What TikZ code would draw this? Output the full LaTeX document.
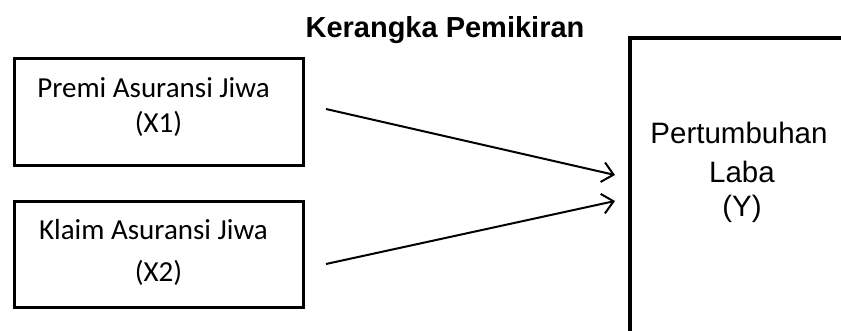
\documentclass[tikz,border=0pt]{standalone}
\usepackage{fontspec}
\setmainfont{Liberation Sans}
\newfontfamily\calfont{Carlito}
\usetikzlibrary{arrows.meta}

\begin{document}
\begin{tikzpicture}[x=1pt,y=-1pt,
  every node/.style={outer sep=0pt},
  inbox/.style={draw, line width=3pt, minimum width=289pt, minimum height=107pt,
    inner sep=0pt},
  boxtext/.style={anchor=base, inner sep=0pt, font=\calfont\fontsize{29}{35}\selectfont},
  ytext/.style={anchor=base, inner sep=0pt, font=\fontsize{29.5}{37}\selectfont},
  arr/.style={line width=2pt,
    -{Straight Barb[length=11pt,width=20pt,line width=2pt]}}]
\useasboundingbox (0,0) rectangle (841,331);
\clip (0,0) rectangle (841,331);

% heading
\node[font=\bfseries\fontsize{29}{34}\selectfont, anchor=base, inner sep=0pt] (title) at (445,38) {Kerangka Pemikiran};

% independent variables
\node[inbox] (x1) at (159,112) {};
\node[boxtext] (x1a) at (153.5,98) {Premi Asuransi Jiwa};
\node[boxtext] (x1b) at (158.5,133) {(X1)};

\node[inbox, minimum height=106pt] (x2) at (159,254.5) {};
\node[boxtext] (x2a) at (153.5,240) {Klaim Asuransi Jiwa};
\node[boxtext] (x2b) at (158.5,282) {(X2)};

% dependent variable (box runs past the page edge)
\node[draw, line width=4.5pt, anchor=north west, minimum width=300pt, minimum height=330pt, inner sep=0pt] (ybox) at (630,38) {};
\node[ytext] (ya) at (739,144) {Pertumbuhan};
\node[ytext] (yb) at (742,182.5) {Laba};
\node[ytext] (yc) at (742,217) {(Y)};

% connectors
\coordinate (s1) at (326,109);
\coordinate (e1) at (615,175);
\coordinate (s2) at (326,264);
\coordinate (e2) at (615,201);
\draw[arr] (s1) -- (e1);
\draw[arr] (s2) -- (e2);
\end{tikzpicture}
\end{document}
